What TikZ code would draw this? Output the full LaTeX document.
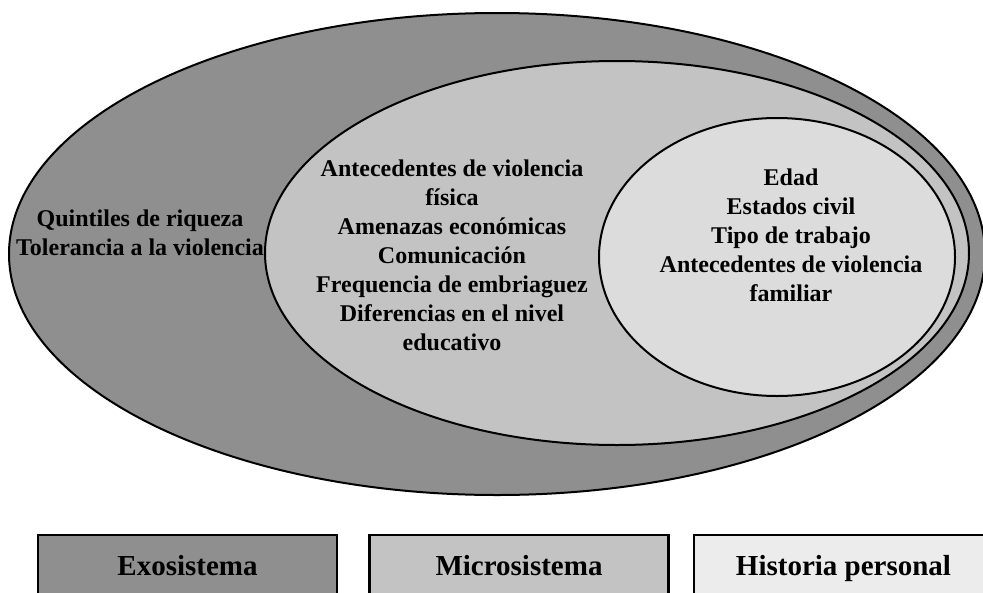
\documentclass[tikz,border=0pt]{standalone}
\usepackage{fontspec}
\setmainfont{Liberation Serif}
\usetikzlibrary{positioning}
\definecolor{exogray}{RGB}{143,143,143}
\definecolor{microgray}{RGB}{195,195,195}
\definecolor{innergray}{RGB}{220,220,220}
\definecolor{histgray}{RGB}{236,236,236}
\tikzset{
     ring/.style={draw=black, line width=2pt},
     factors/.style={align=center, inner sep=0pt,
          font=\bfseries\fontsize{24}{29}\selectfont},
     legendbox/.style={draw=black, line width=2.5pt, minimum width=299pt,
          minimum height=66pt, text height=20pt, text depth=6pt,
          font=\bfseries\fontsize{29}{34}\selectfont},
}

\begin{document}
\begin{tikzpicture}[x=1pt, y=-1pt]

\useasboundingbox (0,0) rectangle (983,592);
\clip (0,0) rectangle (983,592);

% nested systems
\draw [ring, fill=exogray] (497,254) ellipse (488 and 241);
\draw [ring, fill=microgray] (617,253) ellipse (352 and 192);
\draw [ring, fill=innergray] (777,257) ellipse (178 and 139);

\node[factors] (exotext) at (140,233) {Quintiles de riqueza\\Tolerancia a la violencia};
\node[factors] (microtext) at (452,255) {Antecedentes de violencia\\física\\Amenazas económicas\\Comunicación\\Frequencia de embriaguez\\Diferencias en el nivel\\educativo};
\node[factors] (histtext) at (791,235) {Edad\\Estados civil\\Tipo de trabajo\\Antecedentes de violencia\\familiar};

% legend
\node[legendbox, fill=exogray] (exo) at (187.5,568) {Exosistema};
\node[legendbox, fill=microgray] (micro) at (519,568) {Microsistema};
\node[legendbox, fill=histgray] (hist) at (843.5,568) {Historia personal};

\end{tikzpicture}
\end{document}
